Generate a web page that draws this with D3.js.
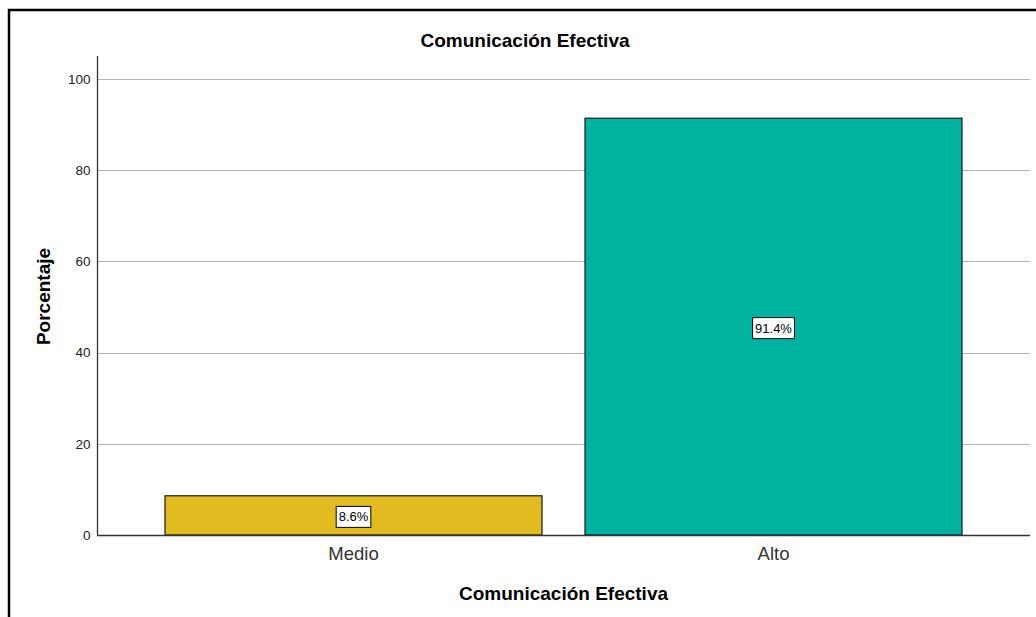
<!DOCTYPE html>
<html>
<head>
<meta charset="utf-8">
<script src="https://cdn.jsdelivr.net/npm/d3@7"></script>
<style>
html,body{margin:0;padding:0;background:#fff;}
svg{display:block;}
</style>
</head>
<body>
<svg id="chart" width="1036" height="617"></svg>
<script>
const title = "Comunicación Efectiva";
const xTitle = "Comunicación Efectiva";
const yTitle = "Porcentaje";
const categories = ["Medio", "Alto"];
const values = [8.6, 91.4];
const labels = ["8.6%", "91.4%"];
const colors = ["#e1bb1f", "#00b2a0"];
const yTicks = [0, 20, 40, 60, 80, 100];

const svg = d3.select("#chart");
const font = "'Liberation Sans', Arial, sans-serif";

// outer frame
svg.append("rect").attr("x", 9).attr("y", 10).attr("width", 1100).attr("height", 700)
  .attr("fill", "none").attr("stroke", "#000").attr("stroke-width", 2.5);

const plotLeft = 97, plotRight = 1030, plotTop = 56, plotBottom = 535;

const y = d3.scaleLinear().domain([0, 100]).range([plotBottom, plotBottom - 456]);
const x = d3.scaleBand().domain(categories).range([143.5, 983.5]).paddingInner(0.1024).paddingOuter(0.0512);

// gridlines
svg.append("g").selectAll("line").data(yTicks.filter(d => d > 0)).join("line")
  .attr("x1", plotLeft).attr("x2", plotRight)
  .attr("y1", d => Math.round(y(d)) + 0.5).attr("y2", d => Math.round(y(d)) + 0.5)
  .attr("stroke", "#b4b4b4").attr("stroke-width", 1);

// y axis
const yAxis = d3.axisLeft(y).tickValues(yTicks).tickSize(0).tickPadding(7);
const gy = svg.append("g").attr("transform", `translate(${plotLeft + 0.5},0)`).call(yAxis);
gy.select(".domain").remove();
gy.selectAll("text").attr("font-family", font).attr("font-size", 13.5).attr("fill", "#222");
svg.append("line").attr("x1", plotLeft + 0.5).attr("x2", plotLeft + 0.5)
  .attr("y1", plotTop).attr("y2", plotBottom + 0.5).attr("stroke", "#333").attr("stroke-width", 1.3);

// bars
svg.append("g").selectAll("rect").data(categories).join("rect")
  .attr("x", d => x(d)).attr("width", x.bandwidth())
  .attr("y", (d, i) => y(values[i])).attr("height", (d, i) => y(0) - y(values[i]))
  .attr("fill", (d, i) => colors[i]).attr("stroke", "#1a1a1a").attr("stroke-width", 1.2);

// x axis
const xAxis = d3.axisBottom(x).tickSize(0).tickPadding(12);
const gx = svg.append("g").attr("transform", `translate(0,${plotBottom})`).call(xAxis);
gx.select(".domain").remove();
gx.selectAll("text").attr("font-family", font).attr("font-size", 18.5).attr("fill", "#333");
svg.append("line").attr("x1", plotLeft).attr("x2", plotRight)
  .attr("y1", plotBottom + 0.5).attr("y2", plotBottom + 0.5).attr("stroke", "#333").attr("stroke-width", 1.3);

// value labels
const lg = svg.append("g").selectAll("g").data(categories).join("g")
  .attr("transform", (d, i) => `translate(${x(d) + x.bandwidth() / 2},${(y(values[i]) + y(0)) / 2 + 1.5})`);
lg.each(function (d, i) {
  const g = d3.select(this);
  const t = g.append("text").text(labels[i]).attr("text-anchor", "middle").attr("dy", "0.35em")
    .attr("font-family", font).attr("font-size", 13).attr("fill", "#000");
  const w = t.node().getComputedTextLength();
  g.insert("rect", "text").attr("x", -w / 2 - 2.5).attr("y", -10.5).attr("width", w + 5).attr("height", 21)
    .attr("fill", "#fff").attr("stroke", "#000").attr("stroke-width", 1);
});

// titles
svg.append("text").attr("x", 525).attr("y", 47).attr("text-anchor", "middle")
  .attr("font-family", font).attr("font-weight", "bold").attr("font-size", 19).text(title);
svg.append("text").attr("x", 563.5).attr("y", 600).attr("text-anchor", "middle")
  .attr("font-family", font).attr("font-weight", "bold").attr("font-size", 19).text(xTitle);
svg.append("text").attr("transform", "translate(50,296.5) rotate(-90)").attr("text-anchor", "middle")
  .attr("font-family", font).attr("font-weight", "bold").attr("font-size", 19).text(yTitle);
</script>
</body>
</html>
